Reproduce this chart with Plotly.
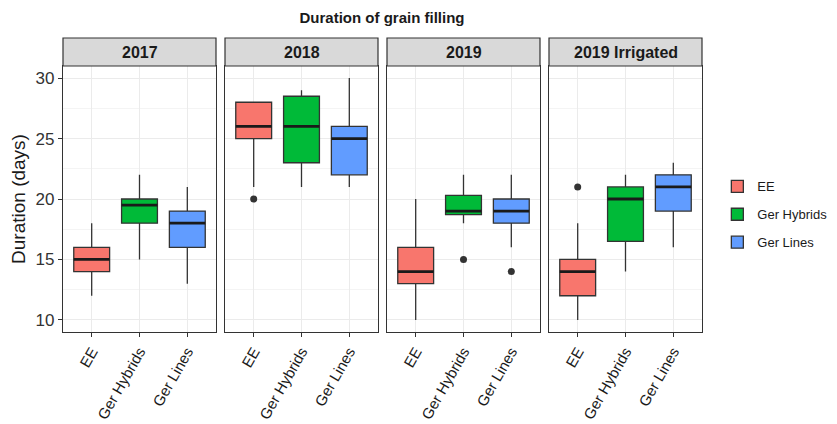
import plotly.graph_objects as go
from plotly.subplots import make_subplots

# ---------------- data ----------------
groups = ["EE", "Ger Hybrids", "Ger Lines"]
panels = ["2017", "2018", "2019", "2019 Irrigated"]
colors = ["#F8766D", "#00BA38", "#619CFF"]

lower_2017 = [12, 15, 13]
q1_2017 = [14, 18, 16]
median_2017 = [15, 19.5, 18]
q3_2017 = [16, 20, 19]
upper_2017 = [18, 22, 21]

lower_2018 = [21, 21, 21]
q1_2018 = [25, 23, 22]
median_2018 = [26, 26, 25]
q3_2018 = [28, 28.5, 26]
upper_2018 = [28, 29, 30]

lower_2019 = [10, 18, 16]
q1_2019 = [13, 18.7, 18]
median_2019 = [14, 19, 19]
q3_2019 = [16, 20.3, 20]
upper_2019 = [20, 22, 22]

lower_irr = [10, 14, 16]
q1_irr = [12, 16.5, 19]
median_irr = [14, 20, 21]
q3_irr = [15, 21, 22]
upper_irr = [18, 22, 23]

# outliers: (panel, group, value)
outlier_panel = ["2018", "2019", "2019", "2019 Irrigated"]
outlier_group = ["EE", "Ger Hybrids", "Ger Lines", "EE"]
outlier_value = [20, 15, 14, 21]

stats = {
    "2017": (lower_2017, q1_2017, median_2017, q3_2017, upper_2017),
    "2018": (lower_2018, q1_2018, median_2018, q3_2018, upper_2018),
    "2019": (lower_2019, q1_2019, median_2019, q3_2019, upper_2019),
    "2019 Irrigated": (lower_irr, q1_irr, median_irr, q3_irr, upper_irr),
}

# ---------------- figure ----------------
FONT = "Liberation Sans, Arial, sans-serif"
EDGE = "#333333"
BOXW = 0.75
positions = [1, 2, 3]

fig = make_subplots(rows=1, cols=4, shared_yaxes=True, horizontal_spacing=0.014)

for pi, pname in enumerate(panels):
    col = pi + 1
    lo, q1, med, q3, up = stats[pname]
    for gi, g in enumerate(groups):
        fig.add_trace(go.Box(
            x=[positions[gi]], q1=[q1[gi]], median=[med[gi]], q3=[q3[gi]],
            lowerfence=[lo[gi]], upperfence=[up[gi]],
            width=BOXW, whiskerwidth=0, boxpoints=False,
            fillcolor=colors[gi], line=dict(color=EDGE, width=1.3),
            name=g, legendgroup=g, showlegend=(pi == 0),
        ), row=1, col=col)
        # thicker median line as in ggplot
        fig.add_trace(go.Scatter(
            x=[positions[gi] - BOXW / 2, positions[gi] + BOXW / 2],
            y=[med[gi], med[gi]], mode="lines",
            line=dict(color="#1a1a1a", width=2.8),
            showlegend=False, legendgroup=g, hoverinfo="skip",
        ), row=1, col=col)
    # outliers
    ox = [positions[groups.index(g)] for p, g in zip(outlier_panel, outlier_group) if p == pname]
    oy = [v for p, v in zip(outlier_panel, outlier_value) if p == pname]
    if ox:
        fig.add_trace(go.Scatter(
            x=ox, y=oy, mode="markers",
            marker=dict(color=EDGE, size=7),
            showlegend=False, hoverinfo="skip",
        ), row=1, col=col)

# domains
W = 639.0
panel_w = 153.0
step = 162.0
ydom_top = 266.0 / 294.0
for pi in range(4):
    x0 = pi * step / W
    x1 = (pi * step + panel_w) / W
    xa = "xaxis" if pi == 0 else f"xaxis{pi+1}"
    ya = "yaxis" if pi == 0 else f"yaxis{pi+1}"
    fig.layout[xa].domain = [x0, x1]
    fig.layout[xa].update(
        range=[0.4, 3.6], tickmode="array", tickvals=positions, ticktext=groups,
        tickangle=-60, ticks="outside", ticklen=4, tickcolor=EDGE,
        showgrid=True, gridcolor="#EBEBEB", gridwidth=1,
        showline=True, linecolor=EDGE, linewidth=1.2, mirror=True,
        zeroline=False, tickfont=dict(family=FONT, size=15, color="#1a1a1a"),
    )
    fig.layout[ya].domain = [0, ydom_top]
    fig.layout[ya].update(
        range=[9, 31], tickmode="array", tickvals=[10, 15, 20, 25, 30],
        showgrid=True, gridcolor="#EBEBEB", gridwidth=1.2,
        minor=dict(tickvals=[12.5, 17.5, 22.5, 27.5], showgrid=True,
                   gridcolor="#F4F4F4", gridwidth=0.8, ticks=""),
        showline=True, linecolor=EDGE, linewidth=1.2, mirror=True,
        zeroline=False,
        ticks="outside" if pi == 0 else "", ticklen=4, tickcolor=EDGE,
        showticklabels=(pi == 0),
        tickfont=dict(family=FONT, size=17, color="#333333"),
    )
    # strip
    xref = "x domain" if pi == 0 else f"x{pi+1} domain"
    yref = "y domain" if pi == 0 else f"y{pi+1} domain"
    strip_h = 28.0 / 266.0
    fig.add_shape(type="rect", xref=xref, yref=yref, x0=0, x1=1, y0=1, y1=1 + strip_h,
                  fillcolor="#D9D9D9", line=dict(color=EDGE, width=1.2), layer="above")
    fig.add_annotation(xref=xref, yref=yref, x=0.5, y=1 + strip_h / 2,
                       xanchor="center", yanchor="middle",
                       text=f"<b>{panels[pi]}</b>", showarrow=False,
                       font=dict(family=FONT, size=16, color="#1a1a1a"))

fig.update_layout(
    width=837, height=424,
    margin=dict(l=63, r=135, t=38, b=92, autoexpand=False),
    paper_bgcolor="white", plot_bgcolor="white",
    font=dict(family=FONT, color="#1a1a1a"),
    title=dict(text="<b>Duration of grain filling</b>", x=382 / 837, xanchor="center",
               y=1 - 18 / 424, yanchor="middle", font=dict(family=FONT, size=15, color="#1a1a1a")),
    showlegend=True,
    legend=dict(x=1.024, xanchor="left", y=0.4, yanchor="middle",
                font=dict(family=FONT, size=13, color="#1a1a1a"),
                tracegroupgap=8, bgcolor="rgba(0,0,0,0)"),
)
fig.update_yaxes(title_text="Duration (days)", title_font=dict(family=FONT, size=19, color="#1a1a1a"),
                 title_standoff=4, row=1, col=1)

fig.write_html("out.html")
